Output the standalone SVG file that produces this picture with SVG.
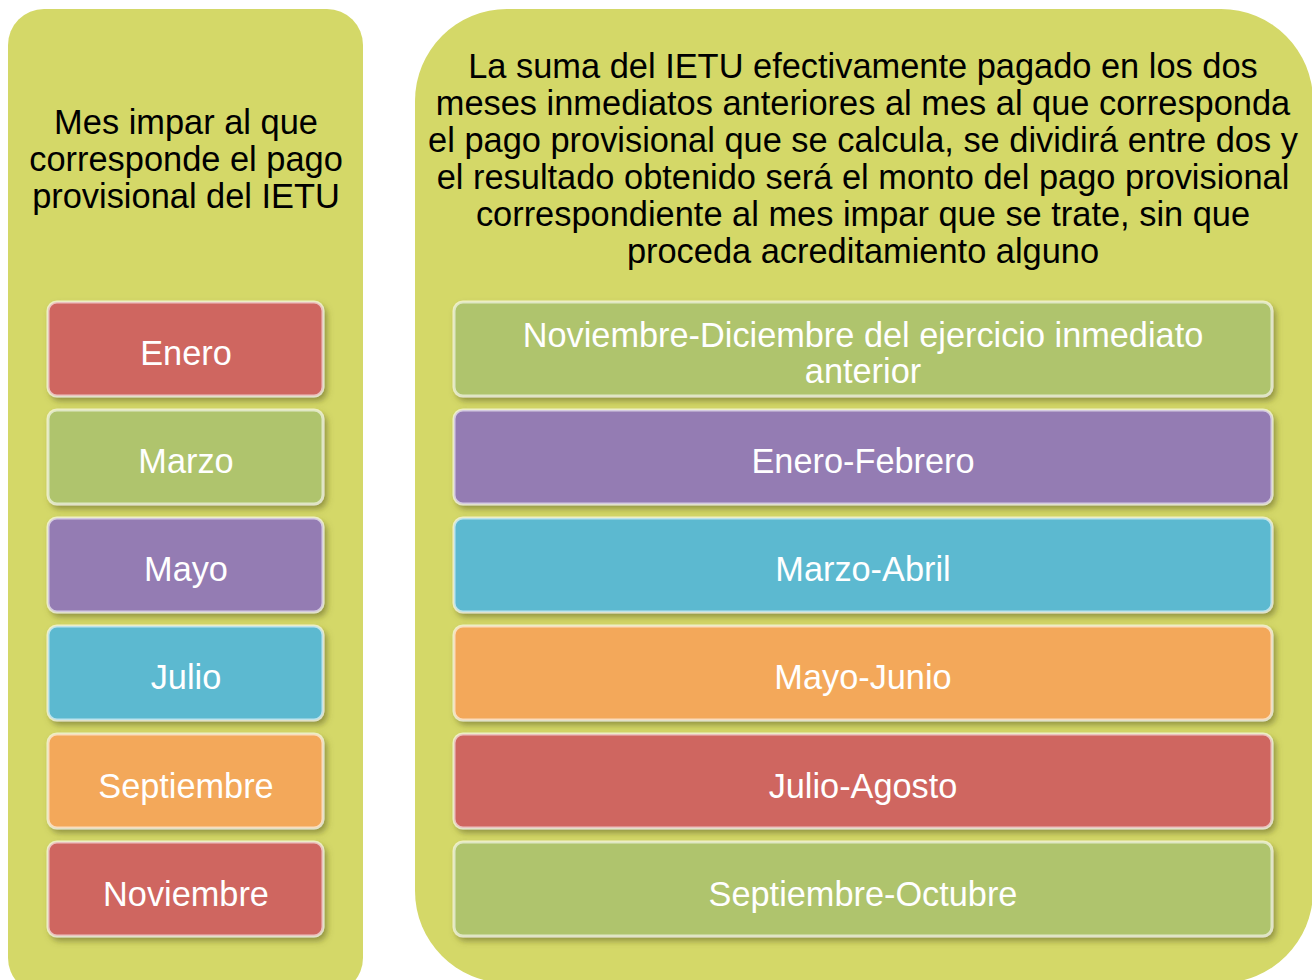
<svg xmlns="http://www.w3.org/2000/svg" width="1312" height="980" viewBox="0 0 1312 980">
<defs>
<filter id="sh" x="-10%" y="-20%" width="125%" height="150%">
<feDropShadow dx="3" dy="4" stdDeviation="3" flood-color="#55551a" flood-opacity="0.55"/>
</filter>
<style>
.panel{fill:#D4D868;}
.box{stroke:#FFFFFF;stroke-opacity:0.6;stroke-width:3;filter:url(#sh);}
.hdr{font-family:"Liberation Sans",Arial,sans-serif;font-size:34.4px;fill:#000;text-anchor:middle;}
.lbl{font-family:"Liberation Sans",Arial,sans-serif;font-size:34.3px;fill:#FFFFFF;text-anchor:middle;}
.red{fill:#CF6661;}
.green{fill:#AFC46D;}
.purple{fill:#947BB3;}
.blue{fill:#5BB9D0;}
.orange{fill:#F3A85A;}
</style>
</defs>
<rect x="0" y="0" width="1312" height="980" fill="#FFFFFF"/>

<g id="panel-left">
<rect class="panel" x="8" y="9" width="355" height="985" rx="36" ry="36"/>
<text class="hdr"><tspan x="186" y="134">Mes impar al que</tspan><tspan x="186" y="171">corresponde el pago</tspan><tspan x="186" y="208">provisional del IETU</tspan></text>
</g>

<g id="panel-right">
<rect class="panel" x="415" y="9" width="898" height="974" rx="92" ry="92"/>
<text class="hdr"><tspan x="863" y="78">La suma del IETU efectivamente pagado en los dos</tspan><tspan x="863" y="115">meses inmediatos anteriores al mes al que corresponda</tspan><tspan x="863" y="152">el pago provisional que se calcula, se dividirá entre dos y</tspan><tspan x="863" y="189">el resultado obtenido será el monto del pago provisional</tspan><tspan x="863" y="226">correspondiente al mes impar que se trate, sin que</tspan><tspan x="863" y="263">proceda acreditamiento alguno</tspan></text>
</g>

<g id="enero">
<rect class="box red" x="48" y="302" width="275" height="94" rx="9"/>
<text class="lbl" x="186" y="365">Enero</text>
</g>
<g id="marzo">
<rect class="box green" x="48" y="410" width="275" height="94" rx="9"/>
<text class="lbl" x="186" y="473">Marzo</text>
</g>
<g id="mayo">
<rect class="box purple" x="48" y="518" width="275" height="94" rx="9"/>
<text class="lbl" x="186" y="581">Mayo</text>
</g>
<g id="julio">
<rect class="box blue" x="48" y="626" width="275" height="94" rx="9"/>
<text class="lbl" x="186" y="689">Julio</text>
</g>
<g id="septiembre">
<rect class="box orange" x="48" y="734" width="275" height="94" rx="9"/>
<text class="lbl" x="186" y="798">Septiembre</text>
</g>
<g id="noviembre">
<rect class="box red" x="48" y="842" width="275" height="94" rx="9"/>
<text class="lbl" x="186" y="906">Noviembre</text>
</g>

<g id="nov-dic">
<rect class="box green" x="454" y="302" width="818" height="94" rx="9"/>
<text class="lbl"><tspan x="863" y="347">Noviembre-Diciembre del ejercicio inmediato</tspan><tspan x="863" y="383">anterior</tspan></text>
</g>
<g id="ene-feb">
<rect class="box purple" x="454" y="410" width="818" height="94" rx="9"/>
<text class="lbl" x="863" y="473">Enero-Febrero</text>
</g>
<g id="mar-abr">
<rect class="box blue" x="454" y="518" width="818" height="94" rx="9"/>
<text class="lbl" x="863" y="581">Marzo-Abril</text>
</g>
<g id="may-jun">
<rect class="box orange" x="454" y="626" width="818" height="94" rx="9"/>
<text class="lbl" x="863" y="689">Mayo-Junio</text>
</g>
<g id="jul-ago">
<rect class="box red" x="454" y="734" width="818" height="94" rx="9"/>
<text class="lbl" x="863" y="798">Julio-Agosto</text>
</g>
<g id="sep-oct">
<rect class="box green" x="454" y="842" width="818" height="94" rx="9"/>
<text class="lbl" x="863" y="906">Septiembre-Octubre</text>
</g>

<g id="connectors"></g>
</svg>
